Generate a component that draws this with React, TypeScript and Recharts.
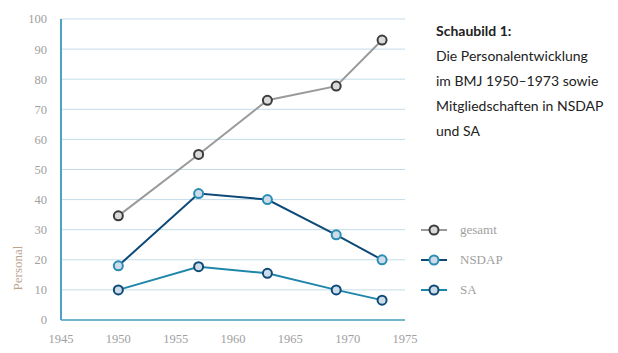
import { LineChart, Line, XAxis, YAxis, CartesianGrid } from "recharts";

const years = [1950, 1957, 1963, 1969, 1973];
const gesamt = [34.6, 55, 73, 77.7, 93];
const nsdap = [18, 42, 40, 28.3, 20];
const sa = [10, 17.7, 15.5, 10, 6.6];
const xTicks = [1945, 1950, 1955, 1960, 1965, 1970, 1975];
const yTicks = [0, 10, 20, 30, 40, 50, 60, 70, 80, 90, 100];

const series = [
  { key: "gesamt", line: "#9a9a9a", dotStroke: "#3c3c3c", dotFill: "#dadada" },
  { key: "NSDAP", line: "#0d4a78", dotStroke: "#2b8db4", dotFill: "#cddce8" },
  { key: "SA", line: "#1f86aa", dotStroke: "#0d4a78", dotFill: "#cddce8" },
];

const data = years.map((y, i) => ({
  year: y,
  gesamt: gesamt[i],
  NSDAP: nsdap[i],
  SA: sa[i],
}));

const tickStyle = { fill: "#a0a0a0", fontSize: 12.5, fontFamily: "Liberation Serif, serif" };

const LegendBox = () => (
  <div style={{ position: "absolute", left: 421, top: 215 }}>
    {series.map((s) => (
      <div key={s.key} style={{ display: "flex", alignItems: "center", height: 30 }}>
        <svg width={26} height={12}>
          <line x1={0} y1={6} x2={26} y2={6} stroke={s.line} strokeWidth={2} />
          <circle cx={13} cy={6} r={4.5} fill={s.dotFill} stroke={s.dotStroke} strokeWidth={2} />
        </svg>
        <span
          style={{
            marginLeft: 13,
            color: "#a0a0a0",
            fontSize: 13,
            fontFamily: "Liberation Serif, serif",
          }}
        >
          {s.key}
        </span>
      </div>
    ))}
  </div>
);

export default function App() {
  return (
    <div style={{ position: "absolute", left: 0, top: 0, width: 618, height: 353, background: "#fff" }}>
      <LineChart width={618} height={353} data={data} margin={{ top: 19, right: 213, left: 0, bottom: 0 }}>
        <CartesianGrid vertical={false} stroke="#c3dce9" strokeWidth={1} />
        <XAxis
          dataKey="year"
          type="number"
          domain={[1945, 1975]}
          ticks={xTicks}
          height={33}
          tickLine={false}
          tickSize={0}
          tickMargin={14}
          axisLine={{ stroke: "#4fa3c2", strokeWidth: 1.5 }}
          tick={tickStyle}
        />
        <YAxis
          domain={[0, 100]}
          ticks={yTicks}
          width={61}
          tickLine={false}
          tickSize={0}
          tickMargin={14}
          axisLine={{ stroke: "#4fa3c2", strokeWidth: 2 }}
          tick={tickStyle}
        />
        {series.map((s) => (
          <Line
            key={s.key}
            dataKey={s.key}
            stroke={s.line}
            strokeWidth={2}
            isAnimationActive={false}
            dot={{ r: 4.5, fill: s.dotFill, stroke: s.dotStroke, strokeWidth: 2 }}
          />
        ))}
      </LineChart>
      <LegendBox />
      <div
        style={{
          position: "absolute",
          left: -12,
          top: 260,
          width: 60,
          height: 16,
          lineHeight: "16px",
          transform: "rotate(-90deg)",
          transformOrigin: "center",
          textAlign: "center",
          color: "#b9a58f",
          fontSize: 13,
          fontFamily: "Liberation Serif, serif",
        }}
      >
        Personal
      </div>
      <div
        style={{
          position: "absolute",
          left: 436,
          top: 18,
          lineHeight: "25px",
          fontSize: 14,
          color: "#222",
          fontFamily: "Lato, sans-serif",
        }}
      >
        <div style={{ fontWeight: 700 }}>Schaubild 1:</div>
        <div>Die Personalentwicklung</div>
        <div>im BMJ 1950–1973 sowie</div>
        <div>Mitgliedschaften in NSDAP</div>
        <div>und SA</div>
      </div>
    </div>
  );
}
